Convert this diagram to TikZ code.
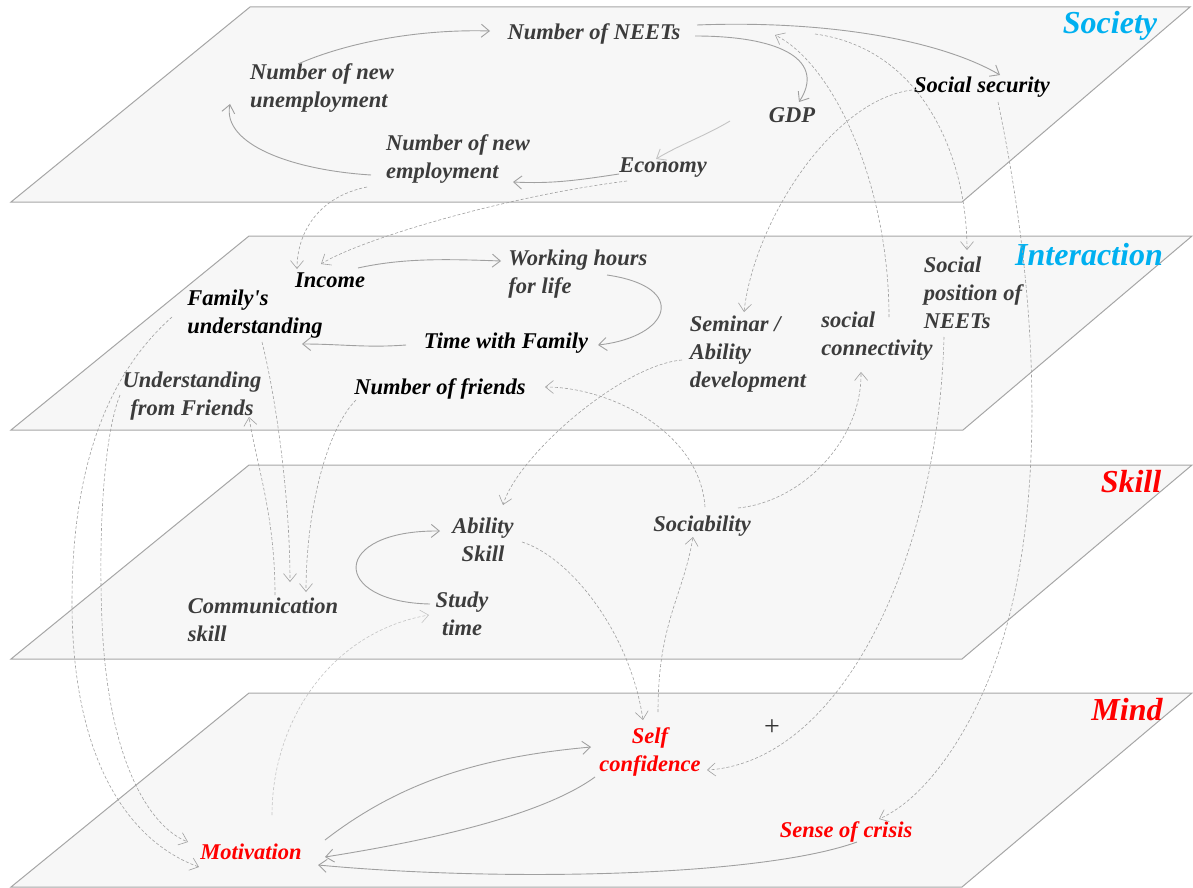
\documentclass[tikz,border=0pt]{standalone}
\usepackage{fontspec}
\setmainfont{Liberation Serif}
\usetikzlibrary{arrows.meta,calc}
\definecolor{planefill}{HTML}{F7F7F7}
\definecolor{planeedge}{HTML}{A6A6A6}
\definecolor{linkgray}{HTML}{A0A0A0}
\definecolor{lightlink}{HTML}{C4C4C4}
\definecolor{textgray}{HTML}{3C3C3C}
\definecolor{levelblue}{HTML}{00B0F0}
\definecolor{levelred}{HTML}{FF0000}
\begin{document}
\begin{tikzpicture}[x=1pt,y=-1pt,
  plane/.style={fill=planefill,draw=planeedge,line width=1pt},
  var/.style={font=\fontsize{22.5}{28}\selectfont\bfseries\itshape,text=textgray,inner sep=0pt,align=left},
  varc/.style={var,align=center},
  key/.style={var,text=black},
  mindvar/.style={var,text=levelred},
  level/.style={font=\fontsize{32}{36}\selectfont\bfseries\itshape,inner sep=0pt},
  link/.style={draw=linkgray,line width=0.9pt,-{Straight Barb[length=8pt,width=13pt]}},
  dlink/.style={link,line width=0.6pt,dash pattern=on 3pt off 2pt},
]
\useasboundingbox (0,0) rectangle (1193,888);

% the four layers
\draw[plane] (11,202) -- (962,202) -- (1190,7) -- (250,7) -- cycle;
\draw[plane] (11,430) -- (963,430) -- (1192,236) -- (249,236) -- cycle;
\draw[plane] (11,659) -- (962,659) -- (1192,465) -- (249,465) -- cycle;
\draw[plane] (11,887) -- (962,887) -- (1192,693) -- (249,693) -- cycle;

\node[level,text=levelblue] (lsociety) at (1110,26) {Society};
\node[level,text=levelblue] (linter) at (1089,255) {Interaction};
\node[level,text=levelred] (lskill) at (1131,482) {Skill};
\node[level,text=levelred] (lmind) at (1127,710) {Mind};

% society layer
\node[var] (neets) at (594,34) {Number of NEETs};
\node[var] (unemp) at (322,88) {Number of new\\unemployment};
\node[var] (gdp) at (792,115) {GDP};
\node[key] (socsec) at (982,87) {Social security};
\node[var] (emp) at (458,159) {Number of new\\employment};
\node[var] (econ) at (663,168) {Economy};

% interaction layer
\node[key] (income) at (330,280) {Income};
\node[var] (work) at (578,274) {Working hours\\for life};
\node[key] (famund) at (255,314) {Family\textquotesingle s\\understanding};
\node[key] (timefam) at (506,343) {Time with Family};
\node[var] (seminar) at (748,354) {Seminar /\\Ability\\development};
\node[var] (socconn) at (877,336) {social\\connectivity};
\node[var] (socpos) at (973,293) {Social\\position of\\NEETs};
\node[varc] (undfr) at (192,396) {Understanding\\from Friends};
\node[key] (numfr) at (440,389) {Number of friends};

% skill layer
\node[varc] (ability) at (483,540) {Ability\\Skill};
\node[var] (sociab) at (702,526) {Sociability};
\node[var] (comm) at (263,620) {Communication\\skill};
\node[varc] (study) at (462,614) {Study\\time};

% mind layer
\node[mindvar,align=center] (selfc) at (650,752) {Self\\confidence};
\node[mindvar] (crisis) at (846,832) {Sense of crisis};
\node[mindvar] (motiv) at (251,852) {Motivation};
\node[font=\fontsize{28}{30}\selectfont,text=black!80,inner sep=0pt] (plus) at (772,728) {+};

% links inside the society layer
\draw[link] ($(unemp)+(-24,-24)$) .. controls +(50,-22) and +(-70,-2) .. ($(neets)+(-104,-3)$);
\draw[link] ($(neets)+(101,2)$) .. controls +(90,0) and +(26,-40) .. ($(gdp)+(7,-13)$);
\draw[link] ($(neets)+(103,-9)$) .. controls +(130,-5) and +(-60,-35) .. ($(socsec)+(18,-12)$);
\draw[link,draw=lightlink] ($(gdp)+(-62,6)$) .. controls +(-25,15) and +(25,-15) .. ($(econ)+(-7,-9)$);
\draw[link] ($(econ)+(-44,6)$) .. controls +(-40,6) and +(40,2) .. ($(emp)+(55,23)$);
\draw[link] ($(emp)+(-87,16)$) .. controls +(-80,-5) and +(-8,40) .. ($(unemp)+(-92,16)$);

% links leaving the society layer
\draw[dlink] ($(econ)+(-36,13)$) .. controls +(-120,15) and +(40,-25) .. ($(income)+(-9,-16)$);
\draw[dlink] ($(emp)+(-91,28)$) .. controls +(-50,10) and +(0,-35) .. ($(income)+(-33,-11)$);
\draw[dlink] ($(socsec)+(-70,3)$) .. controls +(-80,10) and +(10,-90) .. ($(seminar)+(-4,-42)$);
\draw[dlink] ($(socconn)+(12,-19)$) .. controls +(0,-130) and +(60,30) .. ($(neets)+(181,1)$);
\draw[dlink] ($(neets)+(221,0)$) .. controls +(110,15) and +(0,-90) .. ($(socpos)+(-6,-43)$);
\draw[dlink] ($(socsec)+(16,15)$) .. controls +(42,200) and +(43,-140) .. (1002,642)
  .. controls +(-25,81) and +(50,-22) .. ($(crisis)+(33,-13)$);
\draw[dlink] ($(socpos)+(-29,44)$) .. controls +(-6,225) and +(133,-8) .. ($(selfc)+(57,18)$);

% links of the interaction layer
\draw[link] ($(income)+(28,-12)$) .. controls +(45,-10) and +(-55,-2) .. ($(work)+(-77,-13)$);
\draw[link] ($(work)+(29,1)$) .. controls +(83,12) and +(72,-8) .. ($(timefam)+(92,2)$);
\draw[link] ($(timefam)+(-100,2)$) .. controls +(-40,3) and +(40,0) .. ($(famund)+(47,30)$);
\draw[dlink] ($(famund)+(-83,3)$) .. controls +(-62,55) and +(0,-140) .. (72,602)
  .. controls +(0,160) and +(-69,-25) .. ($(motiv)+(-52,15)$);
\draw[dlink] ($(undfr)+(-72,-1)$) .. controls +(-15,37) and +(-4,-100) .. (102,622)
  .. controls +(6,140) and +(-38,-15) .. ($(motiv)+(-63,-10)$);
\draw[dlink] ($(famund)+(7,28)$) .. controls +(15,60) and +(0,-80) .. ($(comm)+(27,-38)$);
\draw[dlink] ($(numfr)+(-84,11)$) .. controls +(-30,30) and +(0,-80) .. ($(comm)+(43,-28)$);
\draw[dlink] ($(comm)+(12,-25)$) .. controls +(0,-80) and +(8,50) .. ($(undfr)+(57,21)$);
\draw[dlink] ($(sociab)+(3,-19)$) .. controls +(-5,-75) and +(65,0) .. ($(numfr)+(105,-2)$);
\draw[dlink] ($(sociab)+(36,-18)$) .. controls +(62,-6) and +(1,70) .. ($(socconn)+(-16,36)$);
\draw[dlink] ($(seminar)+(-66,6)$) .. controls +(-60,5) and +(15,-50) .. ($(ability)+(20,-35)$);

% links of the skill layer
\draw[link] ($(study)+(-32,-10)$) .. controls +(-100,-2) and +(-110,-1) .. ($(ability)+(-43,-9)$);
\draw[dlink] ($(ability)+(39,2)$) .. controls +(48,15) and +(-13,-88) .. ($(selfc)+(-7,-32)$);
\draw[dlink] ($(selfc)+(8,-40)$) .. controls +(0,-90) and +(-10,60) .. ($(sociab)+(-9,11)$);
\draw[dlink,draw=lightlink] ($(motiv)+(21,-37)$) .. controls +(0,-93) and +(-99,17) .. ($(study)+(-33,1)$);

% links of the mind layer
\draw[link] ($(motiv)+(74,-12)$) .. controls +(75,-58) and +(-111,10) .. ($(selfc)+(-59,-5)$);
\draw[link] ($(selfc)+(-55,25)$) .. controls +(-55,40) and +(95,-15) .. ($(motiv)+(74,5)$);
\draw[link] ($(crisis)+(11,10)$) .. controls +(-97,35) and +(182,17) .. ($(motiv)+(67,13)$);
\end{tikzpicture}
\end{document}
